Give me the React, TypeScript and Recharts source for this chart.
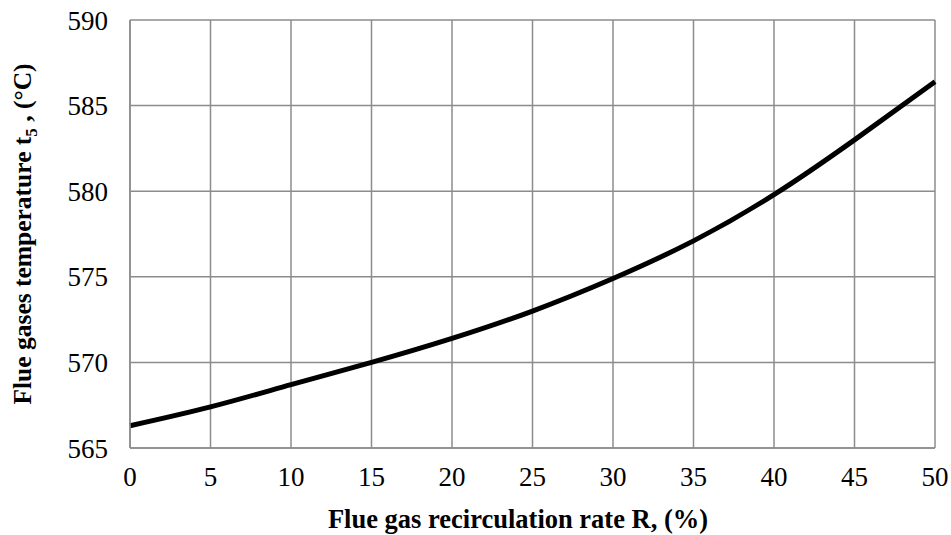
import { CartesianGrid, Line, LineChart, XAxis, YAxis } from 'recharts'

const rates = [0, 5, 10, 15, 20, 25, 30, 35, 40, 45, 50]
const temps = [566.3, 567.4, 568.7, 570.0, 571.4, 573.0, 574.9, 577.1, 579.8, 583.0, 586.4]
const xTicks = [0, 5, 10, 15, 20, 25, 30, 35, 40, 45, 50]
const yTicks = [565, 570, 575, 580, 585, 590]

const data = rates.map((r, i) => ({ r, t: temps[i] }))

const font = '"Liberation Serif", "Times New Roman", serif'
const grid = '#8c8c8c'

function YTitle() {
  return (
    <text
      x={22}
      y={234}
      transform="rotate(-90 22 234)"
      textAnchor="middle"
      dominantBaseline="central"
      fontFamily={font}
      fontWeight="bold"
      fontSize={25.5}
      fill="#000"
    >
      Flue gases temperature t<tspan baselineShift="sub" fontSize={17}>5</tspan>
      <tspan> , (°C)</tspan>
    </text>
  )
}

export default function App() {
  return (
    <div style={{ position: 'absolute', left: 0, top: 0, background: '#fff' }}>
      <LineChart width={951} height={535} data={data} margin={{ top: 20, right: 16, left: 60, bottom: 47 }}>
        <CartesianGrid stroke={grid} strokeWidth={1.5} />
        <XAxis
          dataKey="r"
          type="number"
          domain={[0, 50]}
          ticks={xTicks}
          axisLine={{ stroke: grid, strokeWidth: 1.5 }}
          tickLine={false}
          tickMargin={13}
          height={40}
          tick={{ fontFamily: font, fontSize: 27, fill: '#000' }}
        />
        <YAxis
          type="number"
          domain={[565, 590]}
          ticks={yTicks}
          axisLine={{ stroke: grid, strokeWidth: 1.5 }}
          tickLine={false}
          tickMargin={16}
          width={70}
          tick={{ fontFamily: font, fontSize: 27, fill: '#000' }}
        />
        <Line dataKey="t" type="natural" stroke="#000" strokeWidth={5} dot={false} isAnimationActive={false} />
        <YTitle />
        <text
          x={518}
          y={519}
          textAnchor="middle"
          dominantBaseline="central"
          fontFamily={font}
          fontWeight="bold"
          fontSize={26.5}
          fill="#000"
        >
          Flue gas recirculation rate R, (%)
        </text>
      </LineChart>
    </div>
  )
}
